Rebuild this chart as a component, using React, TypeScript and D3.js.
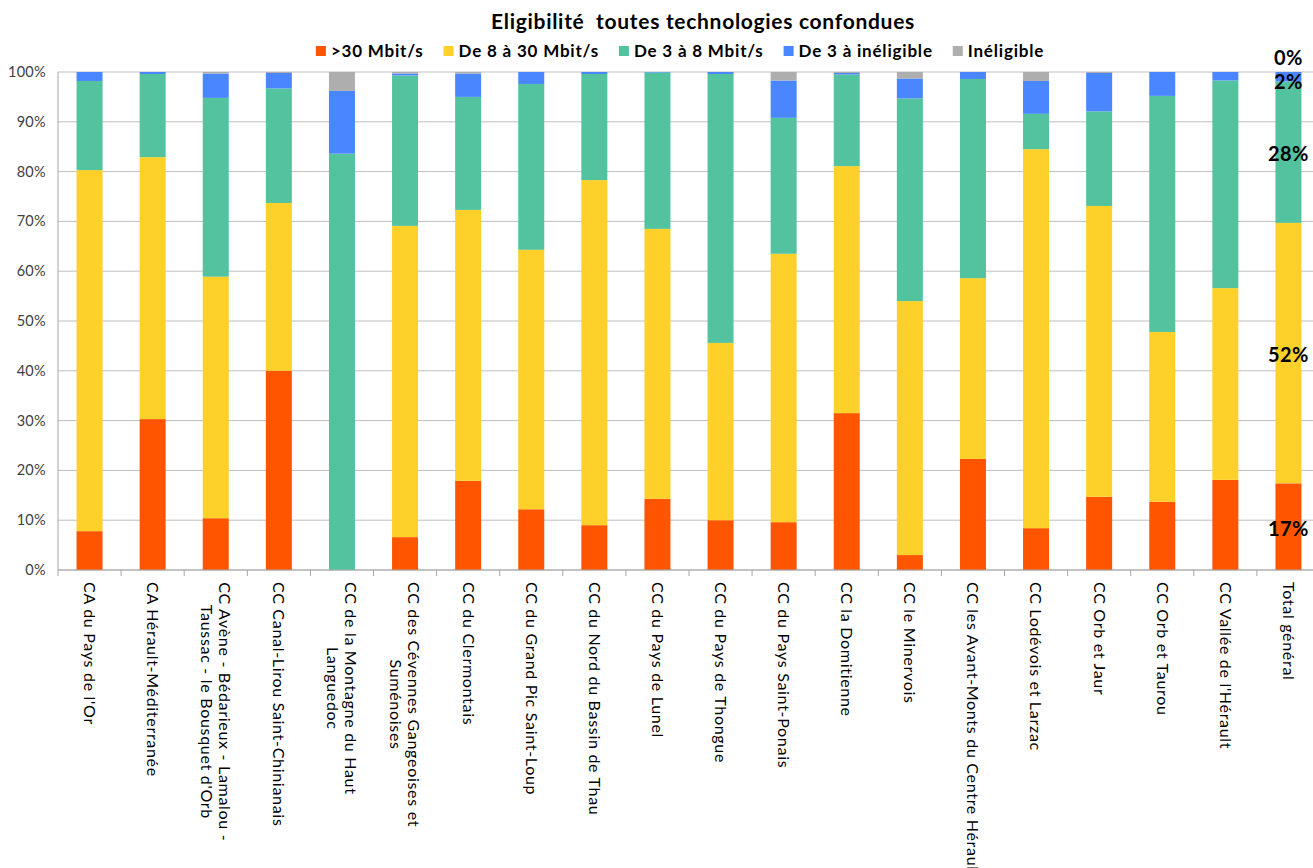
import React from "react";
import * as d3 from "d3";

const title = "Eligibilité  toutes technologies confondues";
const seriesNames = [">30 Mbit/s", "De 8 à 30 Mbit/s", "De 3 à 8 Mbit/s", "De 3 à inéligible", "Inéligible"];
const seriesColors = ["#FF5500", "#FDD02A", "#52C39E", "#4A86FF", "#AEAEAE"];

const categories: string[][] = [
  ["CA du Pays de l'Or"],
  ["CA Hérault-Méditerranée"],
  ["CC Avène - Bédarieux - Lamalou -", "Taussac - le Bousquet d'Orb"],
  ["CC Canal-Lirou Saint-Chinianais"],
  ["CC de la Montagne du Haut", "Languedoc"],
  ["CC des Cévennes Gangeoises et", "Suménoises"],
  ["CC du Clermontais"],
  ["CC du Grand Pic Saint-Loup"],
  ["CC du Nord du Bassin de Thau"],
  ["CC du Pays de Lunel"],
  ["CC du Pays de Thongue"],
  ["CC du Pays Saint-Ponais"],
  ["CC la Domitienne"],
  ["CC le Minervois"],
  ["CC les Avant-Monts du Centre Hérault"],
  ["CC Lodévois et Larzac"],
  ["CC Orb et Jaur"],
  ["CC Orb et Taurou"],
  ["CC Vallée de l'Hérault"],
  ["Total général"],
];

const over30 = [7.8, 30.3, 10.4, 40.0, 0, 6.6, 17.9, 12.2, 9.0, 14.3, 10.0, 9.6, 31.5, 3.0, 22.3, 8.4, 14.7, 13.7, 18.1, 17.4];
const from8to30 = [72.5, 52.6, 48.5, 33.7, 0, 62.5, 54.4, 52.1, 69.3, 54.2, 35.6, 53.9, 49.6, 51.0, 36.3, 76.1, 58.4, 34.1, 38.5, 52.3];
const from3to8 = [17.9, 16.7, 35.9, 23.0, 83.6, 30.2, 22.7, 33.3, 21.3, 31.4, 54.0, 27.3, 18.4, 40.7, 40.0, 7.1, 19.0, 47.4, 41.7, 28.4];
const from3toInel = [1.8, 0.4, 4.9, 3.1, 12.6, 0.4, 4.7, 2.4, 0.4, 0.1, 0.4, 7.5, 0.3, 4.0, 1.4, 6.6, 7.7, 4.8, 1.7, 1.9];
const ineligible = [0, 0, 0.3, 0.2, 3.8, 0.3, 0.3, 0, 0, 0, 0, 1.7, 0.2, 1.3, 0, 1.8, 0.2, 0, 0, 0.0];

const yTicks = [0, 10, 20, 30, 40, 50, 60, 70, 80, 90, 100];
const labeledCategory = "Total général";

const W = 1313;
const H = 868;
const FONT = "'Century Gothic', 'URW Gothic', Lato, 'Open Sans', sans-serif";

function measure(text: string, font: string, spacing: number): number {
  if (typeof document === "undefined") return text.length * 9;
  const c = document.createElement("canvas");
  const ctx = c.getContext("2d");
  if (!ctx) return text.length * 9;
  ctx.font = font;
  return ctx.measureText(text).width + spacing * text.length;
}

export default function App() {
  const left = 58;
  const right = 1320;
  const top = 72;
  const bottom = 570;

  const idx = categories.map((_, i) => i);
  const x = d3.scaleBand<number>().domain(idx).range([left, right]).paddingInner(0.588).paddingOuter(0.294);
  const y = d3.scaleLinear().domain([0, 100]).range([bottom, top]);

  const seriesData = [over30, from8to30, from3to8, from3toInel, ineligible];
  const table = idx.map((i) => {
    const row: any = { i };
    seriesNames.forEach((s, k) => (row[s] = seriesData[k][i]));
    return row;
  });
  const stacked = d3.stack<any>().keys(seriesNames)(table);

  const step = x.step();
  const bw = x.bandwidth();
  const tickXs = idx.map((i) => (x(i) as number) - (step - bw) / 2);

  // legend layout
  const legendFontSize = 17;
  const legendSpacing = 0.8;
  const legendFont = `bold ${legendFontSize}px Lato`;
  const sq = 10;
  const gapSqText = 5;
  const gapItems = 20;
  const widths = seriesNames.map((s) => sq + gapSqText + measure(s, legendFont, legendSpacing));
  const total = d3.sum(widths) + gapItems * (widths.length - 1);
  let lx = 680 - total / 2;
  const legendItems = seriesNames.map((s, k) => {
    const it = { s, k, x: lx };
    lx += widths[k] + gapItems;
    return it;
  });

  const xlSize = 16;
  const xlSpacing = 0.7;
  const xlFont = `${xlSize}px Lato`;

  const totalIdx = categories.findIndex((c) => c.join(" ") === labeledCategory);

  return (
    <svg
      width={W}
      height={H}
      style={{ position: "absolute", left: 0, top: 0, background: "#fff" }}
      fontFamily={FONT}
    >
      <rect x={0} y={0} width={W} height={H} fill="#fff" />
      <text
        x={703}
        y={29}
        textAnchor="middle"
        fontWeight="bold"
        fontSize={21}
        letterSpacing={0.7}
        fill="#000"
        style={{ whiteSpace: "pre" }}
      >
        {title}
      </text>
      {legendItems.map((it) => (
        <g key={it.s} transform={`translate(${it.x},51)`}>
          <rect x={0} y={-5} width={sq} height={sq} fill={seriesColors[it.k]} />
          <text
            x={sq + gapSqText}
            y={0}
            dy="0.35em"
            fontWeight="bold"
            fontSize={legendFontSize}
            letterSpacing={legendSpacing}
            fill="#000"
          >
            {it.s}
          </text>
        </g>
      ))}

      {/* gridlines */}
      {yTicks.map((t) => (
        <line key={t} x1={left} x2={right} y1={y(t)} y2={y(t)} stroke="#bfbfbf" strokeWidth={1} />
      ))}
      {/* y labels */}
      {yTicks.map((t) => (
        <text key={"l" + t} x={46} y={y(t)} dy="0.35em" textAnchor="end" fontSize={14.5} letterSpacing={0.3} fill="#404040">
          {t + "%"}
        </text>
      ))}

      {/* bars */}
      {stacked.map((layer, k) =>
        layer.map((d, i) => {
          const h = y(d[0]) - y(d[1]);
          if (h <= 0) return null;
          return (
            <rect
              key={k + "-" + i}
              x={x(i)}
              y={y(d[1])}
              width={bw}
              height={h}
              fill={seriesColors[k]}
            />
          );
        })
      )}

      {/* axes */}
      <line x1={left} x2={left} y1={top} y2={bottom} stroke="#a6a6a6" />
      <line x1={left} x2={right} y1={bottom} y2={bottom} stroke="#a6a6a6" />
      {tickXs.map((tx, i) => (
        <line key={"t" + i} x1={tx} x2={tx} y1={bottom} y2={bottom + 6} stroke="#a6a6a6" />
      ))}

      {/* x labels */}
      {categories.map((lines, i) => {
        const cx = (x(i) as number) + bw / 2;
        const lh = 18;
        const n = lines.length;
        const maxW = d3.max(lines, (ln) => measure(ln, xlFont, xlSpacing)) as number;
        return (
          <g key={"xl" + i}>
            {lines.map((ln, j) => {
              const off = ((n - 1) / 2 - j) * lh;
              const px = cx + off;
              const multi = n > 1;
              return (
                <text
                  key={j}
                  transform={`translate(${px},${bottom + 12 + (multi ? maxW / 2 : 0)}) rotate(90)`}
                  dy="0.35em"
                  textAnchor={multi ? "middle" : "start"}
                  fontSize={xlSize}
                  letterSpacing={xlSpacing}
                  fill="#000"
                >
                  {ln}
                </text>
              );
            })}
          </g>
        );
      })}

      {/* data labels for total */}
      {totalIdx >= 0 &&
        stacked.map((layer, k) => {
          const d = layer[totalIdx];
          const v = d[1] - d[0];
          const cx = (x(totalIdx) as number) + bw / 2;
          let cy = y((d[0] + d[1]) / 2) + 2;
          if (v < 3) cy = y((d[0] + d[1]) / 2) + 5;
          if (v < 1) cy = y(d[1]) - 14;
          return (
            <text
              key={"dl" + k}
              x={cx}
              y={cy}
              dy="0.35em"
              textAnchor="middle"
              fontWeight="bold"
              fontSize={20}
              letterSpacing={0.5}
              fill="#000"
            >
              {Math.round(v) + "%"}
            </text>
          );
        })}
    </svg>
  );
}
